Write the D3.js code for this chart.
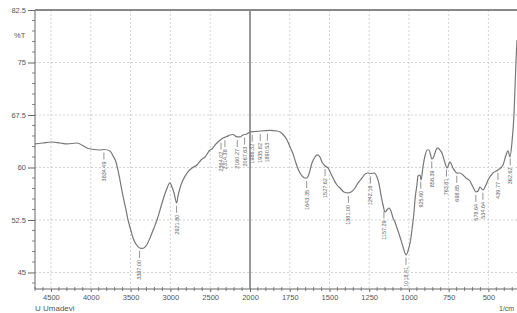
<!DOCTYPE html>
<html><head><meta charset="utf-8">
<script src="https://cdn.jsdelivr.net/npm/d3@7"></script>
<style>body{margin:0;background:#fff}svg{display:block;font-family:"Liberation Sans",Arial,sans-serif}</style>
</head><body><svg id="c" width="517" height="313"></svg>
<script>
// Spectrum data (wavenumber in 1/cm, transmittance in %T)
const wavenumber = [4700,4600,4499,4386,4298,4173,4034,3884,3834,3758,3720,3683,3658,3633,3595,3557,3532,3494,3469,3432,3387,3344,3306,3256,3206,3168,3130,3093,3055,3005,2980,2954,2921,2904,2879,2841,2779,2728,2666,2615,2565,2502,2477,2440,2402,2339,2289,2251,2214,2163,2126,2088,2038,2000,1969,1937,1874,1830,1811,1792,1767,1748,1729,1711,1692,1673,1654,1643,1629,1610,1591,1578,1560,1547,1528,1509,1490,1471,1453,1434,1409,1383,1364,1339,1320,1295,1276,1258,1239,1220,1201,1188,1176,1163,1151,1138,1125,1113,1100,1088,1075,1056,1037,1018,1006,993,981,968,962,949,943,930,924,911,899,886,874,855,842,830,817,805,792,773,760,742,723,698,679,660,641,616,597,578,565,553,534,515,502,471,440,408,389,377,364,352,339,326,320];
const transmittance = [63.36,63.5,63.64,63.5,63.36,63.5,62.71,62.5,62.57,62.36,61.64,60.79,59.64,58.21,55.93,53.93,52.5,50.93,49.93,49.07,48.5,48.43,48.79,49.93,51.36,52.5,53.93,55.36,56.64,57.79,57.21,56.36,54.93,55.93,57.07,58.21,59.36,59.93,60.36,61.07,61.5,62.5,62.64,63.21,63.64,64.21,64.43,64.64,64.71,64.36,64.36,64.64,64.79,65.07,65.14,65.21,65.29,65.21,65.07,64.71,63.93,62.93,61.93,60.64,59.5,58.79,58.5,58.5,59.07,60.64,61.5,61.79,61.5,60.79,60.21,59.93,59.07,58.21,57.5,57.07,56.5,56.36,56.5,57.07,57.79,58.5,59.07,59.21,59.14,59.21,58.64,57.64,56.07,54.64,53.64,53.93,54.21,53.79,52.79,52.21,51.36,50.07,48.64,47.5,48.07,49.21,51.07,53.64,55.36,57.64,58.79,58.93,58.21,60.21,61.64,62.5,62.5,61.21,61.64,62.5,62.79,62.5,62.07,60.64,59.93,60.79,59.93,59.21,59.21,58.93,58.5,58.07,57.21,56.5,56.64,57.21,56.79,57.5,58.21,59.21,59.64,60.36,61.79,62.36,61.5,63.5,67.5,75.36,78.21];
// Peak labels
const peakLabels = ["3834.49","3387.00","2921.80","2364.02","2314.38","2160.27","2067.63","1986.32","1935.82","1890.53","1643.35","1527.62","1381.00","1242.16","1157.29","1018.41","925.60","856.39","763.81","698.85","578.64","534.64","439.77","362.62"];
// Axis ticks
const xTickLabels = [4500,4000,3500,3000,2500,2000,1750,1500,1250,1000,750,500];
const yTickLabels = [45,52.5,60,67.5,75,82.5];

const svg = d3.select("#c");
const L = 35, R = 517, T = 10, B = 289;
const x = d3.scaleLinear().domain([4700,2000,320]).range([L,250,R]);
const y = d3.scaleLinear().domain([82.5,42.64]).range([T,B]);
const grey = "#666";

// grid
const g = svg.append("g");
yTickLabels.filter(v=>v<82.5).forEach(v=>{
  g.append("line").attr("x1",L).attr("x2",R).attr("y1",y(v)).attr("y2",y(v))
   .attr("stroke","#c8c8c8").attr("stroke-width",0.8).attr("stroke-dasharray","2,2");
});
xTickLabels.filter(v=>v!==2000).forEach(v=>{
  g.append("line").attr("x1",x(v)).attr("x2",x(v)).attr("y1",T).attr("y2",B)
   .attr("stroke","#c8c8c8").attr("stroke-width",0.8).attr("stroke-dasharray","2,2");
});
// 2000 split line
g.append("line").attr("x1",x(2000)).attr("x2",x(2000)).attr("y1",T).attr("y2",B)
 .attr("stroke","#333").attr("stroke-width",1);

// y axis
const minorY = d3.range(43.5,82.5,1.5).filter(v=>!yTickLabels.some(t=>Math.abs(t-v)<0.01));
const yAxis = d3.axisLeft(y).tickValues(yTickLabels).tickSize(7).tickPadding(2)
  .tickFormat(d=>d3.format("")(d));
const ya = svg.append("g").attr("transform",`translate(${L},0)`).call(yAxis);
ya.select(".domain").remove();
ya.selectAll("line").attr("stroke",grey);
ya.selectAll("text").attr("fill","#555").style("font-size","7.5px");
minorY.forEach(v=>svg.append("line").attr("x1",L-3).attr("x2",L).attr("y1",y(v)).attr("y2",y(v)).attr("stroke",grey).attr("stroke-width",0.8));
svg.append("line").attr("x1",L).attr("x2",L).attr("y1",T).attr("y2",B).attr("stroke",grey).attr("stroke-width",1);

// top border
svg.append("line").attr("x1",L).attr("x2",R).attr("y1",T).attr("y2",T).attr("stroke","#888").attr("stroke-width",2);

// x axis
const xAxis = d3.axisBottom(x).tickValues(xTickLabels).tickSize(3).tickPadding(3).tickFormat(d=>d);
const xa = svg.append("g").attr("transform",`translate(0,${B})`).call(xAxis);
xa.select(".domain").remove();
xa.selectAll("line").attr("stroke",grey);
xa.selectAll("text").attr("fill","#555").style("font-size","7.5px");
const minorX = d3.range(4700,2000,-100).concat(d3.range(1950,300,-50)).filter(v=>!xTickLabels.includes(v));
minorX.forEach(v=>svg.append("line").attr("x1",x(v)).attr("x2",x(v)).attr("y1",B-2).attr("y2",B+2).attr("stroke",grey).attr("stroke-width",0.8));
svg.append("line").attr("x1",L).attr("x2",R).attr("y1",B).attr("y2",B).attr("stroke",grey).attr("stroke-width",1);

// spectrum
const pts = wavenumber.map((w,i)=>[w,transmittance[i]]);
svg.append("path").datum(pts)
  .attr("d",d3.line().x(d=>x(d[0])).y(d=>y(d[1])).curve(d3.curveMonotoneX))
  .attr("fill","none").attr("stroke","#777").attr("stroke-width",1.2);

// peak labels
const interp = w => {
  for (let i=0;i<wavenumber.length-1;i++){
    if (w<=wavenumber[i] && w>=wavenumber[i+1]){
      const t=(wavenumber[i]-w)/(wavenumber[i]-wavenumber[i+1]);
      return transmittance[i]+t*(transmittance[i+1]-transmittance[i]);
    }
  }
  return transmittance[transmittance.length-1];
};
peakLabels.forEach(lbl=>{
  const w = +lbl, px = x(w), py = y(interp(w))+3;
  svg.append("line").attr("x1",px).attr("x2",px).attr("y1",py).attr("y2",py+7).attr("stroke","#777").attr("stroke-width",0.8);
  svg.append("text").attr("transform",`translate(${px},${py+9}) rotate(-90)`)
    .attr("text-anchor","end").attr("dy","0.35em").attr("fill","#666").style("font-size","5.5px").text(lbl);
});

// texts
svg.append("text").attr("x",14).attr("y",38).attr("fill","#555").style("font-size","7.5px").text("%T");
svg.append("text").attr("x",35).attr("y",311).attr("fill","#555").style("font-size","8px").text("U Umadevi");
svg.append("text").attr("x",499).attr("y",311).attr("fill","#555").style("font-size","7px").text("1/cm");
</script></body></html>
